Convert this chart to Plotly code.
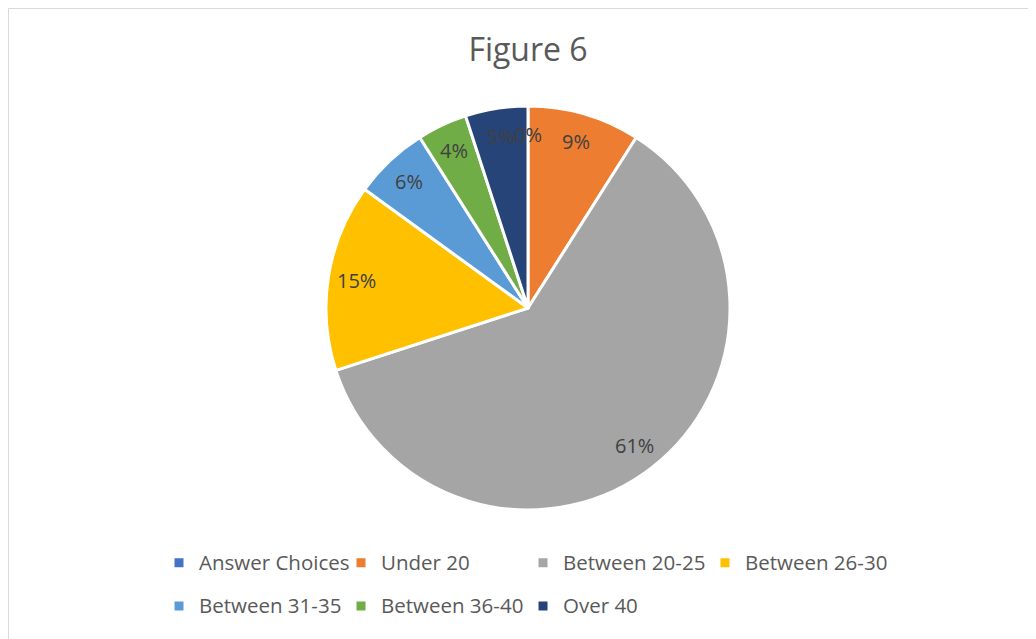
import plotly.graph_objects as go
import numpy as np

# Data
categories = [
    "Answer Choices",
    "Under 20",
    "Between 20-25",
    "Between 26-30",
    "Between 31-35",
    "Between 36-40",
    "Over 40",
]
shares = [0, 9, 61, 15, 6, 4, 5]
colors = ["#4472C4", "#ED7D31", "#A5A5A5", "#FFC000", "#5B9BD5", "#70AD47", "#264478"]

# Layout geometry (pixels, page coords; the page body adds an 8px offset)
OFF = 8
W, H = 1036 - OFF, 639 - OFF
ML, MR = 110, 118
PW = W - ML - MR
CX, CY, R = 528, 308, 202


def px_to_paper(px, py):
    return (px - OFF - ML) / PW, 1 - (py - OFF) / H


x0, y_top = px_to_paper(CX - R, CY - R)
x1, y_bot = px_to_paper(CX + R, CY + R)

legend_names = [
    f'<span style="font-size:20.5px;baseline-shift:5px">{c}</span>' for c in categories
]

fig = go.Figure()
fig.add_trace(
    go.Pie(
        labels=legend_names,
        values=shares,
        sort=False,
        direction="clockwise",
        rotation=0,
        marker=dict(colors=colors, line=dict(color="white", width=3)),
        textinfo="none",
        hoverinfo="label+percent",
        domain=dict(x=[x0, x1], y=[y_bot, y_top]),
        showlegend=True,
    )
)

# Percent labels along each slice's mid-angle
total = sum(shares)
cum = np.cumsum([0] + shares[:-1])
for v, c in zip(shares, cum):
    theta = np.radians((c + v / 2) / total * 360)
    lx = CX + 0.86 * R * np.sin(theta)
    ly = CY - 0.86 * R * np.cos(theta)
    ax_, ay_ = px_to_paper(lx, ly)
    fig.add_annotation(
        x=ax_, y=ay_, xref="paper", yref="paper",
        xanchor="center", yanchor="middle",
        text=f"{round(v / total * 100)}%",
        showarrow=False,
        font=dict(size=20, color="#404040", family="Open Sans"),
    )

# Chart border
bx0, by0 = px_to_paper(8.5, 8.5)
fig.add_shape(
    type="rect", xref="paper", yref="paper",
    x0=bx0, y0=by0, x1=1.3, y1=-0.2,
    line=dict(color="#D9D9D9", width=1),
)

leg_x, leg_y = px_to_paper(159, 536)
fig.update_layout(
    width=W,
    height=H,
    margin=dict(l=ML, r=MR, t=0, b=0),
    paper_bgcolor="white",
    plot_bgcolor="white",
    font=dict(family="Open Sans", color="#595959"),
    title=dict(
        text="Figure 6",
        x=(528 - OFF) / W, xref="container", xanchor="center",
        y=1 - (50 - OFF) / H, yref="container", yanchor="middle",
        font=dict(size=32, color="#595959", family="Open Sans"),
    ),
    legend=dict(
        orientation="h",
        x=leg_x, y=leg_y, xanchor="left", yanchor="top",
        entrywidth=137, entrywidthmode="pixels",
        font=dict(size=31, color="#595959", family="Open Sans"),
        bgcolor="rgba(0,0,0,0)",
    ),
)

fig.write_html("out.html")
